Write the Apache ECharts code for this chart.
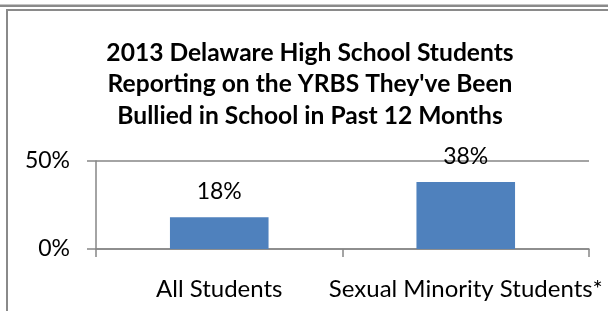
<!DOCTYPE html>
<html>
<head>
<meta charset="utf-8">
<script src="https://cdn.jsdelivr.net/npm/echarts@6/dist/echarts.min.js"></script>
<style>
  html, body { margin: 0; padding: 0; background: #fff; }
  #main { width: 608px; height: 311px; }
</style>
</head>
<body>
<div id="main"></div>
<script>
var categories = ['All Students', 'Sexual Minority Students*'];
var bullied = [18, 38];
var yTicks = [0, 50];

var FONT = 'Lato';
var chart = echarts.init(document.getElementById('main'), null, { renderer: 'canvas' });

var option = {
  animation: false,
  backgroundColor: '#ffffff',
  title: {
    text: '2013 Delaware High School Students\nReporting on the YRBS They\'ve Been\nBullied in School in Past 12 Months',
    left: 310,
    top: 37,
    padding: 0,
    textAlign: 'center',
    textStyle: {
      fontFamily: FONT,
      fontWeight: 'bold',
      fontSize: 24.6,
      lineHeight: 31.5,
      color: '#000000'
    }
  },
  // frame lines around the chart area
  graphic: [
    { type: 'rect', shape: { x: 0, y: 4, width: 608, height: 1 }, style: { fill: '#c4c4c4' } },
    { type: 'rect', shape: { x: 0, y: 5, width: 608, height: 2 }, style: { fill: '#8a8a8a' } },
    { type: 'rect', shape: { x: 6, y: 9, width: 602, height: 2 }, style: { fill: '#8a8a8a' } },
    { type: 'rect', shape: { x: 6, y: 9, width: 2, height: 302 }, style: { fill: '#8a8a8a' } }
  ],
  grid: {
    left: 96,
    right: 19,
    top: 161,
    bottom: 62,
    containLabel: false
  },
  xAxis: {
    type: 'category',
    data: categories,
    boundaryGap: true,
    axisLine: { show: true, lineStyle: { color: '#868686', width: 1.5 } },
    axisTick: { show: true, length: 8, alignWithLabel: false, lineStyle: { color: '#868686', width: 1.5 } },
    axisLabel: {
      interval: 0,
      hideOverlap: false,
      margin: 28,
      fontFamily: FONT,
      fontSize: 24,
      color: '#000000'
    },
    splitLine: { show: false }
  },
  yAxis: {
    type: 'value',
    min: yTicks[0],
    max: yTicks[yTicks.length - 1],
    interval: 50,
    axisLine: { show: true, lineStyle: { color: '#868686', width: 1.5 } },
    axisTick: { show: true, length: 9, lineStyle: { color: '#868686', width: 1.5 } },
    axisLabel: {
      margin: 26,
      fontFamily: FONT,
      fontSize: 23,
      color: '#000000',
      formatter: function (v) { return v + '%'; }
    },
    splitLine: { show: true, lineStyle: { color: '#868686', width: 1.5 } }
  },
  series: [
    {
      type: 'bar',
      data: bullied,
      barWidth: '40%',
      itemStyle: { color: '#4f81bd' },
      label: {
        show: true,
        position: 'top',
        distance: 14,
        fontFamily: FONT,
        fontSize: 23,
        color: '#000000',
        formatter: function (p) { return p.value + '%'; }
      },
      labelLayout: { hideOverlap: false }
    }
  ]
};

chart.setOption(option);
</script>
</body>
</html>
